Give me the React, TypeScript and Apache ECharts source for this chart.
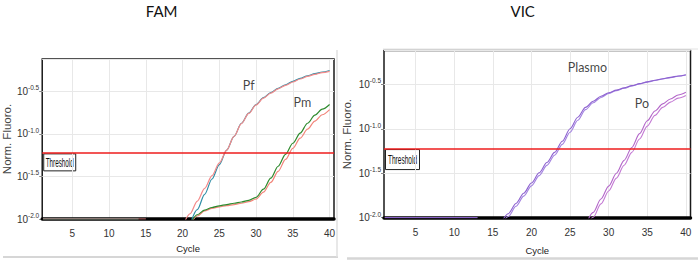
import React, { useEffect, useRef } from "react";
import * as echarts from "echarts";

// ---- data (log10 of normalized fluorescence per cycle) ----
const cycles = [1,2,3,4,5,6,7,8,9,10,11,12,13,14,15,16,17,18,19,20,21,22,23,24,25,26,27,28,29,30,31,32,33,34,35,36,37,38,39,40];
const xTickLabels = [5, 10, 15, 20, 25, 30, 35, 40];
const thresholdLog = -1.217;

const famPfA = [-2,-2,-2,-2,-2,-2,-2,-2,-2,-2,-2,-2,-2,-2,-2,null,null,null,null,-2.09,-1.94,-1.79,-1.64,-1.49,-1.34,-1.19,-1.03,-0.88,-0.76,-0.66,-0.58,-0.52,-0.47,-0.43,-0.39,-0.355,-0.325,-0.3,-0.28,-0.265];
const famPfB = [-2,-2,-2,-2,-2,-2,-2,-2,-2,-2,-2,-2,-2,-2,null,null,null,null,null,null,-2.07,-1.89,-1.71,-1.53,-1.36,-1.19,-1.03,-0.875,-0.755,-0.655,-0.575,-0.515,-0.465,-0.423,-0.383,-0.348,-0.318,-0.293,-0.273,-0.255];
const famPmA = [-2,-2,-2,-2,-2,-2,-2,-2,-2,-2,-2,-2,-2,-2,null,null,null,null,null,null,-2.06,-1.95,-1.895,-1.865,-1.845,-1.83,-1.815,-1.8,-1.78,-1.745,-1.65,-1.52,-1.38,-1.24,-1.11,-0.99,-0.875,-0.78,-0.71,-0.655];
const famPmB = [null,null,null,null,null,null,null,null,null,null,null,null,null,null,null,null,null,null,null,null,-2.07,-1.965,-1.905,-1.875,-1.857,-1.843,-1.83,-1.815,-1.797,-1.765,-1.685,-1.57,-1.44,-1.3,-1.17,-1.05,-0.945,-0.85,-0.775,-0.715];

const vicPlasmoA = [-2,-2,-2,-2,-2,-2,-2,-2,-2,-2,-2,-2,-2,null,null,-2.07,-1.955,-1.84,-1.725,-1.61,-1.495,-1.38,-1.265,-1.14,-1.0,-0.87,-0.76,-0.69,-0.635,-0.595,-0.565,-0.54,-0.515,-0.493,-0.473,-0.455,-0.438,-0.422,-0.406,-0.392];
const vicPlasmoB = [-2,-2,-2,-2,-2,-2,-2,-2,-2,-2,-2,-2,-2,null,null,-2.102,-1.987,-1.872,-1.757,-1.642,-1.527,-1.412,-1.297,-1.175,-1.04,-0.905,-0.785,-0.708,-0.648,-0.604,-0.571,-0.545,-0.519,-0.497,-0.476,-0.458,-0.441,-0.425,-0.409,-0.395];
const vicPoA = [null,null,null,null,null,null,null,null,null,null,null,null,null,null,null,null,null,null,null,null,null,null,null,null,null,null,-2.09,-1.94,-1.79,-1.645,-1.5,-1.355,-1.21,-1.055,-0.91,-0.8,-0.72,-0.665,-0.62,-0.59];
const vicPoB = [null,null,null,null,null,null,null,null,null,null,null,null,null,null,null,null,null,null,null,null,null,null,null,null,null,null,-2.13,-1.995,-1.845,-1.7,-1.555,-1.41,-1.265,-1.115,-0.97,-0.85,-0.76,-0.7,-0.655,-0.625];

const famLabels = [[29.0, -0.43, "Pf"], [36.3, -0.636, "Pm"]];
const vicLabels = [[27.25, -0.313, "Plasmo"], [34.3, -0.716, "Po"]];

const NARROW = "'Liberation Sans Narrow', 'Liberation Sans', Arial, sans-serif";

function pairs(vals: (number | null)[]) {
  return cycles.map((c, i) => [c, vals[i] === null ? "-" : vals[i]]);
}

function curve(grid: number, vals: (number | null)[], color: string, width = 1.2, z = 4) {
  return {
    type: "line",
    xAxisIndex: grid,
    yAxisIndex: grid,
    data: pairs(vals),
    showSymbol: false,
    symbol: "none",
    smooth: 0.3,
    smoothMonotone: "x",
    clip: true,
    z,
    lineStyle: { color, width },
    silent: true,
  };
}

function yFormatter(v: number) {
  if (Math.abs(v * 2 - Math.round(v * 2)) > 1e-6) return "";
  return `{b|10}{s|${v.toFixed(1)}}`;
}

export default function App() {
  const ref = useRef<HTMLDivElement>(null);
  useEffect(() => {
    if (!ref.current) return;
    const chart = echarts.init(ref.current, null, { renderer: "svg" });
    const grids = [
      { left: 39, top: 59, width: 295, height: 160 },
      { left: 384, top: 50.5, width: 306.5, height: 167.2 },
    ];
    const option: any = {
      animation: false,
      backgroundColor: "#ffffff",
      grid: grids.map((g) => ({
        ...g,
        show: true,
        borderColor: "#1a1a1a",
        borderWidth: 1.5,
        backgroundColor: "transparent",
      })),
      xAxis: [0, 1].map((i) => ({
        gridIndex: i,
        type: "value",
        min: 0.9,
        max: 40.6,
        name: "Cycle",
        nameLocation: "middle",
        nameGap: i ? 28 : 24,
        nameTextStyle: { fontFamily: NARROW, fontSize: 9.5, color: "#222" },
        axisLine: { show: true, onZero: false, lineStyle: { color: "#000", width: 3.5 } },
        axisTick: { show: false },
        axisLabel: {
          customValues: xTickLabels,
          fontFamily: NARROW,
          fontSize: 10,
          color: "#333",
          margin: i ? 10 : 9,
        },
        splitLine: { show: false },
        z: 3,
      })),
      yAxis: [0, 1].map((i) => ({
        gridIndex: i,
        type: "value",
        min: -2,
        max: -0.12,
        interval: 0.5,
        name: "Norm. Fluoro.",
        nameLocation: "middle",
        nameGap: i ? 31 : 22,
        nameRotate: 90,
        nameTextStyle: { fontFamily: "'Liberation Sans', sans-serif", fontSize: 11.5, color: "#444" },
        axisLine: { show: false },
        axisTick: { show: true, length: 3, lineStyle: { color: "#888" } },
        axisLabel: {
          margin: 3,
          showMaxLabel: false,
          formatter: yFormatter,
          rich: {
            b: { fontFamily: NARROW, fontSize: 10, color: "#333" },
            s: { fontFamily: NARROW, fontSize: 6.5, color: "#333", padding: [0, 0, 7, 0] },
          },
        },
        splitLine: { show: true, lineStyle: { color: "#e8e8e8", width: 1 } },
      })),
      series: [
        ...[0, 1].map((i) => ({
          type: "line",
          xAxisIndex: i,
          yAxisIndex: i,
          data: [],
          z: 1,
          silent: true,
          markLine: {
            silent: true,
            symbol: "none",
            z: 1,
            animation: false,
            label: { show: false },
            lineStyle: { color: "#e8e8e8", width: 1, type: "solid" },
            data: xTickLabels.map((v) => ({ xAxis: v })),
          },
        })),
        curve(0, famPmB, "#f2857a", 1.2),
        curve(0, famPmA, "#2d8a2d", 1.2),
        curve(0, famPfB, "#2f8ea6", 1.2),
        curve(0, famPfA, "#f48a8a", 1.2),
        curve(1, vicPoB, "#c47ad4", 1.1),
        curve(1, vicPoA, "#b366c9", 1.1),
        curve(1, vicPlasmoB, "#a383e0", 1.1),
        curve(1, vicPlasmoA, "#8d62d0", 1.1),
        ...[0, 1].map((i) => ({
          type: "line",
          xAxisIndex: i,
          yAxisIndex: i,
          data: [],
          silent: true,
          z: 5,
          markLine: {
            silent: true,
            symbol: "none",
            animation: false,
            z: 5,
            lineStyle: { color: "#ee1c1c", width: 1.6, type: "solid" },
            label: { show: false },
            data: [{ yAxis: thresholdLog }],
          },
        })),
        ...[
          [0, famLabels],
          [1, vicLabels],
        ].map(([i, labels]: any) => ({
          type: "scatter",
          xAxisIndex: i,
          yAxisIndex: i,
          symbolSize: 0,
          silent: true,
          data: labels,
          z: 6,
          label: {
            show: true,
            position: "inside",
            formatter: (p: any) => p.value[2],
            fontFamily: "Lato, 'Open Sans', sans-serif",
            fontSize: 12.5,
            color: "#111",
          },
        })),
      ],
    };
    chart.setOption(option);

    // Threshold boxes anchored to the threshold line through the axes' scales
    const boxSizes = [
      { w: 32, h: 17, fs: 12, tw: 28 },
      { w: 34, h: 20, fs: 12.5, tw: 29 },
    ];
    const boxes = [0, 1].map((i) => {
      const p = chart.convertToPixel({ gridIndex: i }, [0.9, thresholdLog]) as number[];
      const s = boxSizes[i];
      const font = `${s.fs}px 'Liberation Sans', Arial, sans-serif`;
      let measured = 0;
      try {
        measured = new (echarts.graphic as any).Text({ style: { text: "Threshold", font } }).getBoundingRect().width;
      } catch (e) {
        measured = 0;
      }
      if (!measured || !isFinite(measured)) measured = s.fs * 4.45;
      const sx = s.tw / measured;
      return {
        type: "group",
        x: p[0] + 1.5,
        y: p[1] + 1.5,
        z: 10,
        children: [
          { type: "rect", shape: { x: 0, y: 0, width: s.w, height: s.h }, style: { fill: "#fff", stroke: "#222", lineWidth: 1 } },
          {
            type: "text",
            x: (s.w - s.tw) / 2,
            y: s.h / 2 + 0.5,
            scaleX: sx,
            style: { text: "Threshold", font, fill: "#111", align: "left", verticalAlign: "middle" },
          },
        ],
      };
    });

    chart.setOption({
      graphic: [
        {
          type: "text",
          x: 161.7,
          y: 10.5,
          style: { text: "FAM", font: "15px Lato, 'Open Sans', sans-serif", fill: "#111", align: "center", verticalAlign: "middle" },
        },
        {
          type: "text",
          x: 522.7,
          y: 10.5,
          style: { text: "VIC", font: "15px Lato, 'Open Sans', sans-serif", fill: "#111", align: "center", verticalAlign: "middle" },
        },
        { type: "line", shape: { x1: 3, y1: 257, x2: 338, y2: 257 }, style: { stroke: "#d6d6d6", lineWidth: 2 } },
        { type: "line", shape: { x1: 337, y1: 50, x2: 337, y2: 257 }, style: { stroke: "#e0e0e0", lineWidth: 1.5 } },
        { type: "line", shape: { x1: 383, y1: 49, x2: 698, y2: 49 }, style: { stroke: "#e2e2e2", lineWidth: 1 } },
        { type: "line", shape: { x1: 347, y1: 258.5, x2: 698, y2: 258.5 }, style: { stroke: "#d6d6d6", lineWidth: 2.5 } },
        ...boxes,
      ],
    });
    return () => chart.dispose();
  }, []);
  return (
    <div
      ref={ref}
      style={{ position: "fixed", left: 0, top: 0, width: 698, height: 262, background: "#fff" }}
    />
  );
}
